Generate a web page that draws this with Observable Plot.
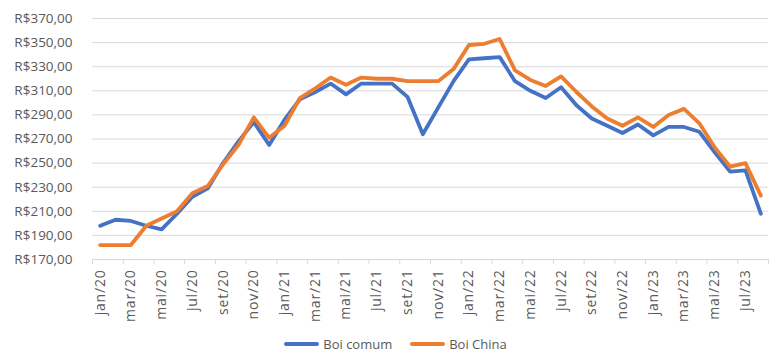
<!DOCTYPE html>
<html>
<head>
<meta charset="utf-8">
<script src="https://cdn.jsdelivr.net/npm/d3@7"></script>
<script src="https://cdn.jsdelivr.net/npm/@observablehq/plot@0.6"></script>
<style>
  body { margin: 0; background: #fff; font-family: "Open Sans", "Liberation Sans", Arial, sans-serif; }
  #chart { width: 783px; }
  .legend { display: flex; justify-content: center; align-items: center; height: 33px; font-size: 13px; color: #595959; padding-left: 8px; box-sizing: border-box; }
  .legend .item { display: flex; align-items: center; margin: 0 9px; }
  .legend .sw { width: 35px; height: 4px; margin-right: 4px; border-radius: 2px; }
  .xlab text { letter-spacing: 0.8px; }
</style>
</head>
<body>
<div id="chart"></div>
<script>
const months = ["jan/20","fev/20","mar/20","abr/20","mai/20","jun/20","jul/20","ago/20","set/20","out/20","nov/20","dez/20",
  "jan/21","fev/21","mar/21","abr/21","mai/21","jun/21","jul/21","ago/21","set/21","out/21","nov/21","dez/21",
  "jan/22","fev/22","mar/22","abr/22","mai/22","jun/22","jul/22","ago/22","set/22","out/22","nov/22","dez/22",
  "jan/23","fev/23","mar/23","abr/23","mai/23","jun/23","jul/23","ago/23"];
const boiComum = [198,203,202,198,195,208,222,229,250,268,284,265,
  286,303,309,316,307,316,316,316,305,274,296,318,
  336,337,338,318,310,304,313,298,287,281,275,282,273,280,280,276,259,243,244,208];
const boiChina = [182,182,182,198,204,210,225,231,249,265,288,271,
  281,304,312,321,315,321,320,320,318,318,318,328,
  348,349,353,327,319,314,322,309,297,287,281,288,280,290,295,283,263,247,250,223];
const yTicks = [170,190,210,230,250,270,290,310,330,350,370];
const seriesNames = ["Boi comum","Boi China"];
const seriesColors = ["#4472C4","#ED7D31"];

const rows = [];
months.forEach((m,i)=>{
  rows.push({i: i+0.5, month: m, value: boiComum[i], serie: seriesNames[0]});
  rows.push({i: i+0.5, month: m, value: boiChina[i], serie: seriesNames[1]});
});
const fmt = v => "R$" + v.toFixed(2).replace(".", ",");
const labelPos = d3.range(0, months.length, 2).map(i => i + 0.5);
const tickPos = d3.range(0, months.length + 1, 2);

const chart = Plot.plot({
  width: 783,
  height: 327,
  marginLeft: 92,
  marginRight: 15,
  marginTop: 18,
  marginBottom: 68,
  style: {fontFamily: "Open Sans, Liberation Sans, Arial, sans-serif", fontSize: "13px", color: "#595959", background: "#fff"},
  x: {domain: [0, months.length]},
  y: {domain: [170, 370]},
  color: {domain: seriesNames, range: seriesColors},
  marks: [
    Plot.gridY(yTicks, {stroke: "#d9d9d9", strokeOpacity: 1}),
    Plot.ruleY([170], {stroke: "#d9d9d9", strokeWidth: 1}),
    Plot.axisY({ticks: yTicks, tickFormat: fmt, tickSize: 0, tickPadding: 20, label: null, fill: "#595959", fontSize: 13.5}),
    Plot.axisX({ticks: tickPos, tickFormat: () => "", tickSize: 5, stroke: "#d9d9d9", label: null}),
    Plot.axisX({ticks: labelPos, tickFormat: d => months[Math.floor(d)], tickSize: 0, tickPadding: 10, tickRotate: -90, label: null, fill: "#595959", fontSize: 14, className: "xlab"}),
    Plot.line(rows, {x: "i", y: "value", z: "serie", stroke: "serie", strokeWidth: 3.8, strokeLinejoin: "round", strokeLinecap: "round"})
  ]
});
document.getElementById("chart").appendChild(chart);

const legend = document.createElement("div");
legend.className = "legend";
seriesNames.forEach((n, k) => {
  const it = document.createElement("div");
  it.className = "item";
  const sw = document.createElement("div");
  sw.className = "sw";
  sw.style.background = seriesColors[k];
  const t = document.createElement("span");
  t.textContent = n;
  it.appendChild(sw); it.appendChild(t);
  legend.appendChild(it);
});
document.getElementById("chart").appendChild(legend);
</script>
</body>
</html>
